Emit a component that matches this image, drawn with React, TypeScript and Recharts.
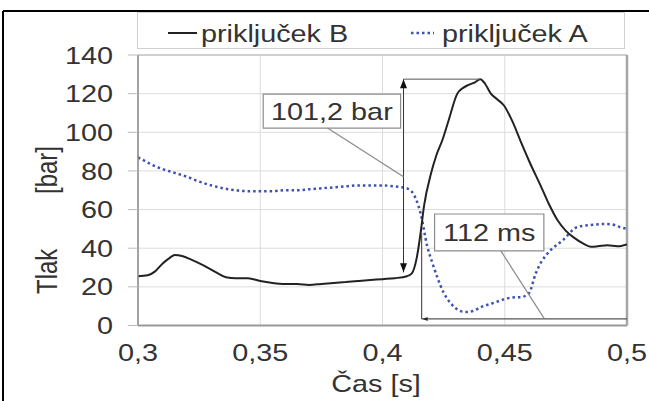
import React from 'react';
import { LineChart, Line, XAxis, YAxis, CartesianGrid, ReferenceLine, ReferenceArea } from 'recharts';

// ---------- data ----------
const seriesNames = ['priključek B', 'priključek A'];
const xTicks = [0.3, 0.35, 0.4, 0.45, 0.5];
const yTicks = [0, 20, 40, 60, 80, 100, 120, 140];
const xTitle = 'Čas [s]';
const yTitleParts = ['Tlak', '[bar]'];

const timeB = [0.300, 0.304, 0.307, 0.310, 0.313, 0.315, 0.318, 0.322, 0.327, 0.332, 0.336, 0.340, 0.345, 0.350, 0.355, 0.360, 0.365, 0.370, 0.375, 0.380, 0.385, 0.390, 0.395, 0.400, 0.405, 0.410, 0.412, 0.414, 0.4156, 0.417, 0.4197, 0.422, 0.4245, 0.427, 0.4306, 0.433, 0.4352, 0.438, 0.440, 0.442, 0.4443, 0.447, 0.4496, 0.453, 0.4566, 0.460, 0.4648, 0.468, 0.4716, 0.475, 0.4783, 0.482, 0.4852, 0.488, 0.492, 0.496, 0.500];
const pressureB = [25.5, 26, 28, 32, 35, 36.5, 36, 34, 31, 27.5, 25, 24.5, 24.5, 23, 22, 21.5, 21.5, 21, 21.5, 22, 22.5, 23, 23.5, 24, 24.5, 25.5, 27, 35, 48, 62, 78, 88, 96, 106, 120, 123, 124.5, 126, 127.5, 125, 120, 117, 114, 106, 95, 85, 72, 63, 54.5, 49, 45.5, 42.5, 40.8, 41, 41.5, 41, 42];

const timeA = [0.300, 0.303, 0.306, 0.310, 0.315, 0.320, 0.325, 0.330, 0.335, 0.340, 0.345, 0.350, 0.355, 0.360, 0.365, 0.370, 0.375, 0.380, 0.385, 0.390, 0.395, 0.400, 0.405, 0.408, 0.410, 0.4127, 0.4156, 0.4183, 0.4205, 0.4224, 0.425, 0.4279, 0.431, 0.434, 0.437, 0.4402, 0.445, 0.4496, 0.453, 0.4566, 0.4598, 0.4627, 0.465, 0.4675, 0.4736, 0.4798, 0.485, 0.490, 0.4934, 0.497, 0.500];
const pressureA = [87, 85, 83, 81, 79, 77, 74.5, 72.5, 71, 70, 69.5, 69.5, 69.5, 70, 70, 70.5, 71, 71.5, 72, 72.5, 72.5, 72.5, 72, 71.5, 71, 68, 58, 41, 32, 25, 17, 11.5, 8, 7, 7.5, 9.5, 11.5, 13.5, 14.5, 14.7, 16.5, 27, 33, 37.3, 44, 51, 52, 52.5, 52.4, 51, 50];

// annotation values (data space)
const ampLabel = '101,2 bar';
const ampAt = [0.4086];
const ampRange = [27.5, 127.5];
const ampPeakT = [0.44];
const ampBox = [0.3512, 0.4074, 102.2, 119.8];
const ampLeader = [0.3775, 102.2, 0.4086, 77];

const durLabel = '112 ms';
const durStart = [0.416];
const durLevel = [3.4];
const durTop = [48];
const durBox = [0.4213, 0.466, 38.6, 57.7];
const durLeader = [0.4484, 38.6, 0.4661, 3.7];

const dataB = timeB.map((t, i) => ({ t, p: pressureB[i] }));
const dataA = timeA.map((t, i) => ({ t, p: pressureA[i] }));

// ---------- styles ----------
const FONT = '"Liberation Sans", Arial, sans-serif';
const SX = 1.2;
const FS = 24;
const TEXT = '#333';
const BLUE = '#3e50b0';
const BLACK = '#222';

function SText({ x, y, anchor = 'start', rotate = false, children }: any) {
  const tf = rotate
    ? `translate(${x},${y}) scale(${SX},1) rotate(-90)`
    : `translate(${x},${y}) scale(${SX},1)`;
  return (
    <text transform={tf} textAnchor={anchor} fontFamily={FONT} fontSize={FS} fill={TEXT}>
      {children}
    </text>
  );
}

const fmt = (v: number) => String(v).replace('.', ',');

const XTick = (props: any) => {
  const { x, y, payload } = props;
  return <SText x={x} y={y + 35.5} anchor="middle">{fmt(payload.value)}</SText>;
};

const YTick = (props: any) => {
  const { x, y, payload } = props;
  return <SText x={x} y={y + 8.6} anchor="end">{fmt(payload.value)}</SText>;
};

const DoubleArrow = (props: any) => {
  const { x1, y1, x2, y2 } = props;
  const top = Math.min(y1, y2);
  const bot = Math.max(y1, y2);
  return (
    <g>
      <line x1={x1} y1={top} x2={x2} y2={bot} stroke="#333" strokeWidth={1} />
      <polygon points={`${x1},${top} ${x1 - 3.5},${top + 9} ${x1 + 3.5},${top + 9}`} fill="#111" />
      <polygon points={`${x1},${bot} ${x1 - 3.5},${bot - 9} ${x1 + 3.5},${bot - 9}`} fill="#111" />
    </g>
  );
};

const LeftArrow = (props: any) => {
  const { x1, y1, x2, y2 } = props;
  const left = Math.min(x1, x2);
  const right = Math.max(x1, x2);
  return (
    <g>
      <line x1={left} y1={y1} x2={right} y2={y2} stroke="#555" strokeWidth={1.2} />
      <polygon points={`${left + 1},${y1} ${left + 6},${y1 - 2} ${left + 6},${y1 + 2}`} fill="#222" />
    </g>
  );
};

const boxLabel = (text: string) => (props: any) => {
  const vb = props.viewBox;
  if (!vb) return null;
  return <SText x={vb.x + vb.width / 2} y={vb.y + vb.height / 2 + 8.6} anchor="middle">{text}</SText>;
};

export default function App() {
  return (
    <div style={{ position: 'absolute', left: 0, top: 0, background: '#fff' }}>
      <LineChart width={649} height={401} margin={{ top: 55, right: 22, bottom: 0, left: 0 }}>
        {/* outer frame */}
        <line x1={3} y1={11} x2={649} y2={11} stroke="#000" strokeWidth={2} />
        <line x1={3} y1={11} x2={3} y2={401} stroke="#000" strokeWidth={2} />
        {/* legend */}
        <rect x={137.5} y={12.5} width={487} height={36} fill="#fff" stroke="#d0d0d0" />
        <line x1={168} x2={197} y1={33} y2={33} stroke={BLACK} strokeWidth={2} />
        <SText x={201} y={42}>{seriesNames[0]}</SText>
        <line x1={411} x2={434} y1={33} y2={33} stroke={BLUE} strokeWidth={2.5} strokeDasharray="2.5 3" />
        <SText x={442} y={42}>{seriesNames[1]}</SText>
        {/* axis titles */}
        <SText x={376} y={392} anchor="middle">{xTitle}</SText>
        <SText x={57} y={294} rotate>{yTitleParts[0]}</SText>
        <SText x={57} y={194} rotate>{yTitleParts[1]}</SText>

        <CartesianGrid stroke="#dcdcdc" strokeWidth={1} />
        <XAxis
          type="number"
          dataKey="t"
          domain={[0.3, 0.5]}
          ticks={xTicks}
          interval={0}
          height={75.5}
          tickSize={0}
          tickMargin={0}
          tickLine={false}
          axisLine={{ stroke: '#999', strokeWidth: 2 }}
          tick={<XTick />}
          allowDataOverflow
        />
        <YAxis
          type="number"
          domain={[0, 140]}
          ticks={yTicks}
          interval={0}
          width={138}
          tickSize={10}
          tickMargin={15}
          tickLine={{ stroke: '#bbb' }}
          axisLine={{ stroke: '#888', strokeWidth: 1.5 }}
          tick={<YTick />}
          allowDataOverflow
        />
        <ReferenceLine y={140} stroke="#c4c4c4" strokeWidth={1.5} />
        <ReferenceLine x={0.5} stroke="#a6a6a6" strokeWidth={2.5} />

        <Line data={dataA} dataKey="p" type="monotone" stroke={BLUE} strokeWidth={2.5} strokeDasharray="2.5 3" dot={false} isAnimationActive={false} />
        <Line data={dataB} dataKey="p" type="monotone" stroke={BLACK} strokeWidth={2} dot={false} isAnimationActive={false} />

        {/* amplitude annotation */}
        <ReferenceLine segment={[{ x: ampAt[0], y: ampRange[0] }, { x: ampAt[0], y: ampRange[1] }]} shape={DoubleArrow} />
        <ReferenceLine segment={[{ x: ampAt[0], y: ampRange[1] }, { x: ampPeakT[0], y: ampRange[1] }]} stroke="#555" strokeWidth={1} />
        <ReferenceLine segment={[{ x: ampLeader[0], y: ampLeader[1] }, { x: ampLeader[2], y: ampLeader[3] }]} stroke="#8a8a8a" strokeWidth={1.2} />
        <ReferenceArea x1={ampBox[0]} x2={ampBox[1]} y1={ampBox[2]} y2={ampBox[3]} fill="#fff" fillOpacity={1} stroke="#8c8c8c" strokeWidth={1.2} label={boxLabel(ampLabel)} />

        {/* duration annotation */}
        <ReferenceLine segment={[{ x: durStart[0], y: durTop[0] }, { x: durStart[0], y: durLevel[0] }]} stroke="#555" strokeWidth={1.2} />
        <ReferenceLine segment={[{ x: durStart[0], y: durLevel[0] }, { x: 0.5, y: durLevel[0] }]} shape={LeftArrow} />
        <ReferenceLine segment={[{ x: durLeader[0], y: durLeader[1] }, { x: durLeader[2], y: durLeader[3] }]} stroke="#8a8a8a" strokeWidth={1.2} />
        <ReferenceArea x1={durBox[0]} x2={durBox[1]} y1={durBox[2]} y2={durBox[3]} fill="#fff" fillOpacity={1} stroke="#8c8c8c" strokeWidth={1.2} label={boxLabel(durLabel)} />
      </LineChart>
    </div>
  );
}
